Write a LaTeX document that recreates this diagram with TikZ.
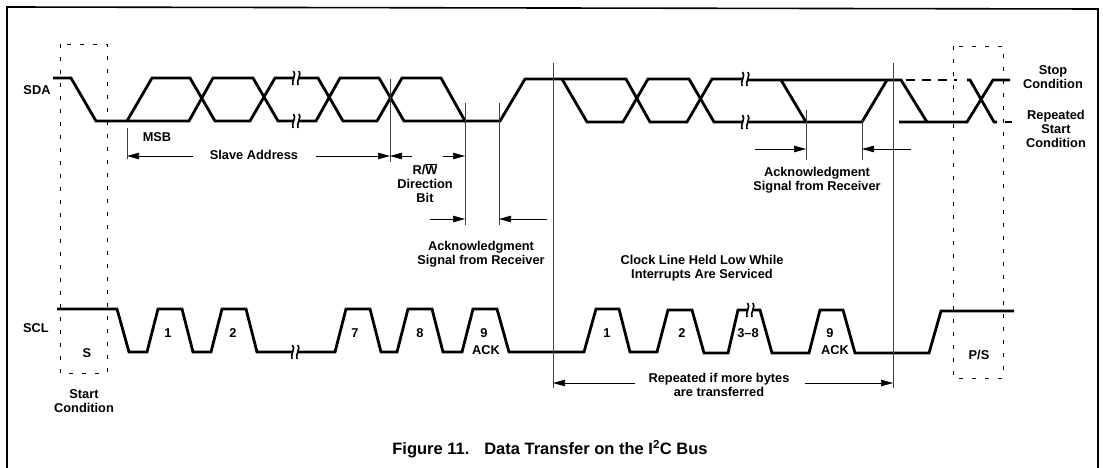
\documentclass[tikz,border=0pt]{standalone}
\usepackage{fontspec}
\setmainfont{Liberation Sans}
\usetikzlibrary{arrows.meta}

\begin{document}
\begin{tikzpicture}[
  x=1pt, y=-1pt,
  wave/.style={line width=2.8pt, line join=miter},
  thinl/.style={line width=0.7pt, black!75},
  box/.style={line width=0.7pt, dash pattern=on 4pt off 9pt},
  arr/.style={-{Triangle[length=12pt,width=6.5pt]}, line width=0.7pt},
  lab/.style={font=\fontsize{12.8}{14}\selectfont\bfseries, align=center, inner sep=0pt},
  brk/.pic={
    \fill[white] (-3,-3.5) rectangle (3,3.5);
    \draw[line width=1.6pt] (-2.5,-7) .. controls (1,-4) and (-5,3) .. (-3,7);
    \draw[line width=1.6pt] (3,-7) .. controls (6,-4) and (0,3) .. (2,7);
  }
]
  \useasboundingbox (0,0) rectangle (1103,468);

  % Frame
  \draw[line width=1.6pt] (7,468) -- (7,7) -- (1098,9) -- (1098,468);

  % Dashed boxes
  \draw[box] (60,44) rectangle (107,373);
  \draw[box] (953,46) rectangle (1003,378);

  % SDA
  \draw[wave] (53,78) -- (71,78) -- (96,121) -- (189,121) -- (213,78) -- (253,78) -- (278,121) -- (295,121);
  \draw[wave] (127,121) -- (152,78) -- (190,78) -- (215,121) -- (250,121) -- (275,78) -- (295,78);
  \draw[wave] (295,78) -- (318,78) -- (343,121) -- (377,121) -- (402,78) -- (441,78) -- (465,121) -- (500,121) -- (525,79) -- (626,79) -- (650,122) -- (687,122) -- (712,79) -- (745,79);
  \draw[wave] (295,121) -- (316,121) -- (340,78) -- (379,78) -- (404,121) -- (465,121);
  \draw[wave] (562,79) -- (587,122) -- (623,122) -- (648,79) -- (689,79) -- (714,122) -- (745,122);
  \draw[wave] (745,80) -- (901,80) -- (927,122);
  \draw[wave] (745,122) -- (862,122) -- (887,80);
  \draw[wave] (781,80) -- (806,122);
  \draw[wave] (899,122) -- (967,122) -- (993,80) -- (1010,80);
  \draw[wave, dash pattern=on 9pt off 7pt] (906,80) -- (957,80);
  \draw[wave] (967,80) -- (970,80) -- (994,122) -- (997,122);
  \draw[wave] (1005,122) -- (1012,122);
  \pic at (296,78) {brk};
  \pic at (296,121) {brk};
  \pic at (745,79) {brk};
  \pic at (745,122) {brk};

  % SCL
  \draw[wave] (57,309) -- (117,309) -- (129,352) -- (147,352) -- (158,309) -- (182,309) -- (193,352) -- (211,352) -- (222,309) -- (246,309) -- (257,352) -- (335,352) -- (346,309) -- (370,309) -- (381,352) -- (397,352) -- (408,309) -- (432,309) -- (443,352) -- (462,352) -- (473,309) -- (497,309) -- (509,352) -- (584,352) -- (596,309) -- (619,309) -- (630,352) -- (657,352) -- (668,310) -- (692,310) -- (704,353) -- (728,353) -- (738,310) -- (760,310) -- (772,353) -- (809,353) -- (820,310) -- (843,310) -- (855,353) -- (929,353) -- (941,311) -- (1014,311);
  \pic at (295,352) {brk};
  \pic at (750,310) {brk};

  % Tick lines
  \coordinate (msb) at (127,156);
  \coordinate (ninth) at (390,156);
  \coordinate (rw) at (465,156);
  \coordinate (ackl) at (465,219);
  \coordinate (ackr) at (499,219);
  \coordinate (repl) at (553,383);
  \coordinate (repr) at (893,383);
  \coordinate (ack2l) at (806,149);
  \coordinate (ack2r) at (862,149);
  \draw[thinl] (127,128) -- (127,159);
  \draw[thinl] (390,79) -- (390,162);
  \draw[thinl] (465,103) -- (465,225);
  \draw[thinl] (499,103) -- (499,225);
  \draw[thinl] (553,63) -- (553,388);
  \draw[thinl] (893,63) -- (893,388);
  \draw[thinl] (806,110) -- (806,160);
  \draw[thinl] (862,120) -- (862,160);

  % Arrows
  \draw[arr] (193,156) -- (msb);
  \draw[arr] (316,156) -- (ninth);
  \draw[arr] (412,156) -- (ninth);
  \draw[arr] (443,156) -- (rw);
  \draw[arr] (430,219) -- (ackl);
  \draw[arr] (547,219) -- (ackr);
  \draw[arr] (755,149) -- (ack2l);
  \draw[arr] (911,149) -- (ack2r);
  \draw[arr] (635,383) -- (repl);
  \draw[arr] (805,383) -- (repr);

  % Labels
  \node[lab] (SDA) at (37,90) {SDA};
  \node[lab] (SCL) at (36,328) {SCL};
  \node[lab] (MSB) at (157,137) {MSB};
  \node[lab] (SA) at (254,155) {Slave Address};
  \node[lab] (RW) at (425,183) {R/$\overline{\mbox{W}}$\\Direction\\Bit};
  \node[lab] (AS1) at (481,254) {Acknowledgment\\Signal from Receiver};
  \node[lab] (AS2) at (817,180) {Acknowledgment\\Signal from Receiver};
  \node[lab] (CL) at (702,268) {Clock Line Held Low While\\Interrupts Are Serviced};
  \node[lab] (SC) at (1053,77) {Stop\\Condition};
  \node[lab] (RSC) at (1056,129) {Repeated\\Start\\Condition};
  \node[lab] (S) at (87,353) {S};
  \node[lab] (PS) at (979,355) {P/S};
  \node[lab] (ST) at (84,401) {Start\\Condition};
  \node[lab] (R) at (719,385) {Repeated if more bytes\\are transferred};
  \foreach \name/\xpos/\txt in {a/168/1, b/233/2, c/355/7, d/420/8, e/484/9, f/607/1, g/682/2, h/748/3--8, i/830/9}
    \node[lab] (n\name) at (\xpos,333) {\txt};
  \node[lab] (ack1) at (486,350) {ACK};
  \node[lab] (ack2) at (835,350) {ACK};
  \node[lab, font=\fontsize{16.5}{18}\selectfont\bfseries] (cap) at (550,449) {Figure 11.\hspace{0.9em}Data Transfer on the I\textsuperscript{2}C Bus};
\end{tikzpicture}
\end{document}
